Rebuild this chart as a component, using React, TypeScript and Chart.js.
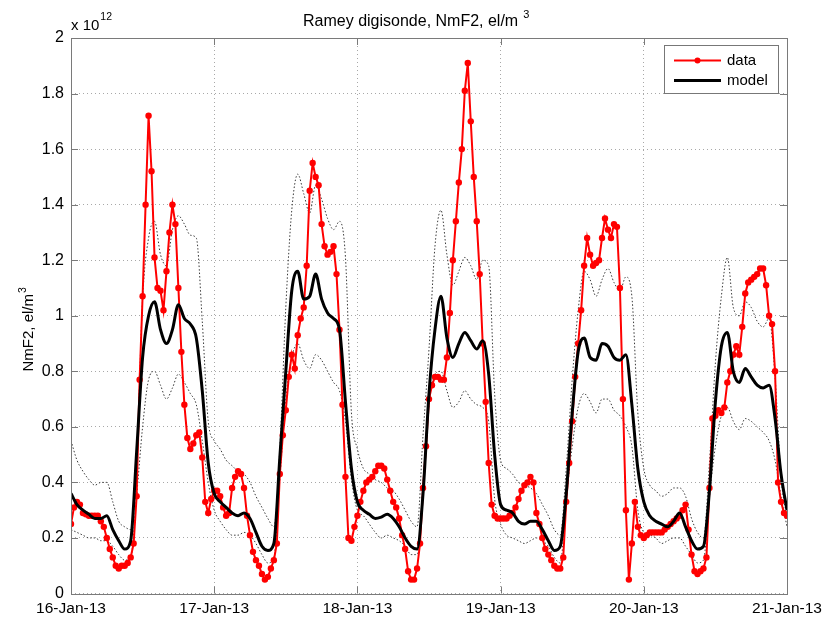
import React, { useEffect, useRef } from 'react';
import { Chart, registerables } from 'chart.js';

Chart.register(...registerables);

// X axis: days since 16-Jan-2013 00:00
const dateLabels = ['16-Jan-13', '17-Jan-13', '18-Jan-13', '19-Jan-13', '20-Jan-13', '21-Jan-13'];
const yTickLabels = ['0', '0.2', '0.4', '0.6', '0.8', '1', '1.2', '1.4', '1.6', '1.8', '2'];

// Digisonde NmF2 (x 1e12 el/m^3), one value every 30 minutes
const dataValues = [
  // 16-Jan
  0.25, 0.31, 0.33, 0.32, 0.29, 0.285, 0.28, 0.28, 0.28, 0.28,
  0.26, 0.24, 0.20, 0.16, 0.13, 0.10, 0.09, 0.10, 0.10, 0.11,
  0.13, 0.18, 0.35, 0.77, 1.07, 1.40, 1.72, 1.52, 1.21, 1.10,
  1.09, 1.02, 1.16, 1.30, 1.40, 1.33, 1.10, 0.87, 0.68, 0.56,
  0.52, 0.54, 0.57, 0.58, 0.49, 0.33, 0.29, 0.34,
  // 17-Jan
  0.37, 0.37, 0.35, 0.31, 0.28, 0.29, 0.38, 0.42, 0.44, 0.43,
  0.38, 0.28, 0.21, 0.15, 0.12, 0.10, 0.07, 0.05, 0.06, 0.09,
  0.12, 0.18, 0.43, 0.57, 0.66, 0.78, 0.86, 0.81, 0.93, 0.99,
  1.03, 1.18, 1.45, 1.55, 1.50, 1.47, 1.33, 1.25, 1.22, 1.23,
  1.25, 1.15, 0.95, 0.68, 0.42, 0.20, 0.19, 0.24,
  // 18-Jan
  0.28, 0.33, 0.37, 0.40, 0.41, 0.42, 0.44, 0.46, 0.46, 0.45,
  0.41, 0.37, 0.33, 0.31, 0.27, 0.21, 0.16, 0.08, 0.05, 0.05,
  0.09, 0.18, 0.38, 0.53, 0.70, 0.75, 0.78, 0.78, 0.77, 0.77,
  0.85, 1.01, 1.20, 1.34, 1.48, 1.60, 1.81, 1.91, 1.70, 1.50,
  1.34, 1.15, 0.90, 0.69, 0.47, 0.32, 0.28, 0.27,
  // 19-Jan
  0.27, 0.27, 0.27, 0.28, 0.29, 0.31, 0.34, 0.37, 0.39, 0.40,
  0.42, 0.40, 0.29, 0.25, 0.20, 0.16, 0.14, 0.12, 0.10, 0.09,
  0.09, 0.13, 0.33, 0.47, 0.62, 0.78, 0.90, 1.02, 1.18, 1.28,
  1.22, 1.18, 1.19, 1.20, 1.28, 1.35, 1.31, 1.28, 1.33, 1.32,
  1.10, 0.70, 0.30, 0.05, 0.18, 0.33, 0.24, 0.21,
  // 20-Jan
  0.20, 0.21, 0.22, 0.22, 0.22, 0.22, 0.22, 0.23, 0.24, 0.25,
  0.26, 0.27, 0.28, 0.30, 0.32, 0.23, 0.14, 0.08, 0.07, 0.08,
  0.09, 0.13, 0.38, 0.63, 0.64, 0.66, 0.65, 0.67, 0.76, 0.80,
  0.86, 0.89, 0.86, 0.96, 1.08, 1.12, 1.13, 1.14, 1.15, 1.17,
  1.17, 1.11, 1.00, 0.97, 0.80, 0.40, 0.33, 0.29,
  // 21-Jan 00:00
  0.28,
];

// Model NmF2, hourly
const modelValues = [
  0.36, 0.32, 0.30, 0.285, 0.27, 0.27, 0.28, 0.23, 0.19, 0.16, 0.19, 0.51,
  0.85, 1.00, 1.05, 0.95, 0.90, 0.95, 1.04, 0.99, 0.97, 0.92, 0.73, 0.47,
  0.36, 0.33, 0.31, 0.29, 0.28, 0.29, 0.27, 0.22, 0.17, 0.155, 0.18, 0.49,
  0.80, 1.09, 1.16, 1.06, 1.07, 1.15, 1.06, 1.01, 0.99, 0.95, 0.69, 0.45,
  0.33, 0.30, 0.285, 0.27, 0.275, 0.285, 0.27, 0.24, 0.20, 0.17, 0.16, 0.36,
  0.72, 0.95, 1.07, 0.92, 0.85, 0.90, 0.94, 0.91, 0.88, 0.91, 0.79, 0.50,
  0.32, 0.30, 0.29, 0.26, 0.25, 0.26, 0.26, 0.23, 0.19, 0.155, 0.17, 0.36,
  0.65, 0.87, 0.92, 0.85, 0.84, 0.90, 0.89, 0.85, 0.84, 0.86, 0.68, 0.45,
  0.33, 0.28, 0.26, 0.25, 0.24, 0.26, 0.29, 0.24, 0.19, 0.16, 0.17, 0.37,
  0.69, 0.89, 0.94, 0.80, 0.76, 0.81, 0.78, 0.75, 0.74, 0.75, 0.63, 0.43,
  0.30,
];

// Model upper bound, hourly
const modelUpper = [
  0.55, 0.48, 0.44, 0.41, 0.39, 0.40, 0.40, 0.33, 0.26, 0.24, 0.23, 0.47,
  1.06, 1.28, 1.34, 1.22, 1.18, 1.31, 1.36, 1.33, 1.29, 1.28, 0.98, 0.62,
  0.55, 0.52, 0.48, 0.46, 0.44, 0.43, 0.40, 0.35, 0.31, 0.27, 0.24, 0.52,
  1.03, 1.38, 1.51, 1.44, 1.37, 1.47, 1.42, 1.35, 1.31, 1.34, 1.21, 0.65,
  0.52, 0.45, 0.43, 0.41, 0.40, 0.38, 0.37, 0.34, 0.30, 0.26, 0.24, 0.57,
  0.88, 1.25, 1.38, 1.22, 1.11, 1.16, 1.21, 1.18, 1.13, 1.20, 1.18, 0.72,
  0.48, 0.45, 0.43, 0.40, 0.39, 0.38, 0.36, 0.32, 0.28, 0.23, 0.21, 0.45,
  0.77, 1.02, 1.16, 1.13, 1.07, 1.13, 1.17, 1.12, 1.09, 1.14, 1.07, 0.65,
  0.45, 0.39, 0.37, 0.35, 0.36, 0.38, 0.38, 0.35, 0.27, 0.22, 0.20, 0.47,
  0.83, 1.07, 1.21, 1.03, 1.00, 1.05, 1.03, 0.98, 0.96, 0.99, 0.78, 0.42,
  0.27,
];

// Model lower bound, hourly
const modelLower = [
  0.23, 0.22, 0.21, 0.20, 0.20, 0.19, 0.19, 0.17, 0.14, 0.12, 0.13, 0.35,
  0.60, 0.77, 0.80, 0.75, 0.70, 0.74, 0.79, 0.76, 0.72, 0.68, 0.55, 0.40,
  0.30, 0.26, 0.23, 0.21, 0.21, 0.22, 0.21, 0.18, 0.14, 0.11, 0.13, 0.41,
  0.70, 0.85, 0.90, 0.84, 0.81, 0.86, 0.84, 0.80, 0.76, 0.73, 0.62, 0.41,
  0.30, 0.28, 0.25, 0.22, 0.20, 0.21, 0.20, 0.19, 0.17, 0.14, 0.14, 0.39,
  0.68, 0.79, 0.80, 0.73, 0.67, 0.69, 0.73, 0.70, 0.68, 0.67, 0.62, 0.34,
  0.25, 0.21, 0.20, 0.19, 0.18, 0.19, 0.20, 0.19, 0.17, 0.13, 0.11, 0.34,
  0.53, 0.67, 0.72, 0.69, 0.65, 0.70, 0.70, 0.66, 0.64, 0.60, 0.53, 0.30,
  0.22, 0.21, 0.20, 0.18, 0.19, 0.20, 0.20, 0.17, 0.14, 0.11, 0.12, 0.35,
  0.53, 0.64, 0.67, 0.62, 0.59, 0.63, 0.62, 0.60, 0.58, 0.55, 0.48, 0.35,
  0.24,
];

const DATA_STEP = 0.5 / 24; // days
const MODEL_STEP = 1 / 24; // days

const FONT = '"Liberation Sans", Arial, Helvetica, sans-serif';

const toPoints = (vals: number[], step: number) => vals.map((v, i) => ({ x: i * step, y: v }));

const decorPlugin = {
  id: 'decor',
  afterDraw(chart: any) {
    const { ctx, chartArea: a } = chart;
    const xs = chart.scales.x;
    const ys = chart.scales.y;
    ctx.save();

    // axes box
    ctx.strokeStyle = '#7a7a7a';
    ctx.lineWidth = 1;
    ctx.setLineDash([]);
    ctx.strokeRect(Math.round(a.left) + 0.5, Math.round(a.top) + 0.5, Math.round(a.right - a.left), Math.round(a.bottom - a.top));

    // inward ticks
    const tl = 7;
    ctx.beginPath();
    ys.ticks.forEach((t: any) => {
      const y = Math.round(ys.getPixelForValue(t.value)) + 0.5;
      ctx.moveTo(a.left, y); ctx.lineTo(a.left + tl, y);
      ctx.moveTo(a.right, y); ctx.lineTo(a.right - tl, y);
    });
    xs.ticks.forEach((t: any) => {
      const x = Math.round(xs.getPixelForValue(t.value)) + 0.5;
      ctx.moveTo(x, a.top); ctx.lineTo(x, a.top + tl);
      ctx.moveTo(x, a.bottom); ctx.lineTo(x, a.bottom - tl);
    });
    ctx.stroke();

    ctx.fillStyle = '#000';
    // title with superscript
    ctx.textBaseline = 'alphabetic';
    ctx.textAlign = 'left';
    ctx.font = `16px ${FONT}`;
    const titleMain = 'Ramey digisonde, NmF2, el/m';
    const wMain = ctx.measureText(titleMain).width;
    const tx = 303;
    ctx.fillText(titleMain, tx, 26);
    ctx.font = `11px ${FONT}`;
    ctx.fillText('3', tx + wMain + 5, 18);

    // exponent label
    ctx.font = `15px ${FONT}`;
    ctx.fillText('x 10', a.left, 30);
    const w10 = ctx.measureText('x 10').width;
    ctx.font = `10.5px ${FONT}`;
    ctx.fillText('12', a.left + w10 + 1, 20);

    // y-axis label (rotated)
    ctx.save();
    ctx.font = `15px ${FONT}`;
    const yl = 'NmF2, el/m';
    const wyl = ctx.measureText(yl).width;
    ctx.translate(33, (a.top + a.bottom) / 2 + 17 + wyl / 2);
    ctx.rotate(-Math.PI / 2);
    ctx.fillText(yl, 0, 0);
    ctx.font = `10.5px ${FONT}`;
    ctx.fillText('3', wyl + 1, -7);
    ctx.restore();

    // legend
    const lx = 664.5, ly = 45.5, lw = 114, lh = 48;
    ctx.fillStyle = '#fff';
    ctx.fillRect(lx, ly, lw, lh);
    ctx.strokeStyle = '#777';
    ctx.lineWidth = 1;
    ctx.strokeRect(lx, ly, lw, lh);
    // data entry
    ctx.strokeStyle = '#ff0000';
    ctx.lineWidth = 2;
    ctx.beginPath(); ctx.moveTo(674, 60.5); ctx.lineTo(721, 60.5); ctx.stroke();
    ctx.fillStyle = '#ff0000';
    ctx.beginPath(); ctx.arc(697.5, 60.5, 3, 0, Math.PI * 2); ctx.fill();
    // model entry
    ctx.strokeStyle = '#000';
    ctx.lineWidth = 3;
    ctx.beginPath(); ctx.moveTo(674, 80.5); ctx.lineTo(721, 80.5); ctx.stroke();
    ctx.fillStyle = '#000';
    ctx.font = `15px ${FONT}`;
    ctx.textBaseline = 'middle';
    ctx.fillText('data', 727, 61);
    ctx.fillText('model', 727, 81);

    ctx.restore();
  },
};

export default function App() {
  const ref = useRef<HTMLCanvasElement>(null);
  useEffect(() => {
    document.body.style.margin = '0';
    const canvas = ref.current;
    if (!canvas) return;
    const chart = new Chart(canvas, {
      type: 'line',
      data: {
        datasets: [
          {
            label: 'data',
            data: toPoints(dataValues, DATA_STEP),
            borderColor: '#ff0000',
            backgroundColor: '#ff0000',
            borderWidth: 2,
            pointRadius: 3.2,
            pointBorderWidth: 0,
            pointBackgroundColor: '#ff0000',
            tension: 0,
            order: 2,
          },
          {
            label: 'model',
            data: toPoints(modelValues, MODEL_STEP),
            borderColor: '#000000',
            borderWidth: 3,
            pointRadius: 0,
            cubicInterpolationMode: 'monotone',
            order: 1,
          },
          {
            label: 'upper',
            data: toPoints(modelUpper, MODEL_STEP),
            borderColor: '#3a3a3a',
            borderWidth: 1,
            borderDash: [1.5, 2],
            pointRadius: 0,
            cubicInterpolationMode: 'monotone',
            order: 3,
          },
          {
            label: 'lower',
            data: toPoints(modelLower, MODEL_STEP),
            borderColor: '#3a3a3a',
            borderWidth: 1,
            borderDash: [1.5, 2],
            pointRadius: 0,
            cubicInterpolationMode: 'monotone',
            order: 4,
          },
        ],
      },
      options: {
        responsive: false,
        animation: false,
        events: [],
        layout: { padding: { left: 0, right: 37, top: 38, bottom: 0 } },
        plugins: {
          legend: { display: false },
          title: { display: false },
          tooltip: { enabled: false },
        },
        scales: {
          x: {
            type: 'linear',
            min: 0,
            max: 5,
            afterFit: (scale: any) => {
              scale.height = 30.5;
              scale.paddingLeft = 0;
              scale.paddingRight = 0;
            },
            ticks: {
              stepSize: 1,
              autoSkip: false,
              maxRotation: 0,
              padding: 6,
              color: '#000',
              font: { family: FONT, size: 15.5 },
              callback: (v: any) => dateLabels[Math.round(Number(v))] ?? '',
            },
            grid: { color: '#a8a8a8', lineWidth: 1, drawTicks: false },
            border: { display: false, dash: [1, 3] },
          },
          y: {
            min: 0,
            max: 2,
            afterFit: (scale: any) => {
              scale.width = 71;
              scale.paddingTop = 0;
              scale.paddingBottom = 0;
            },
            ticks: {
              stepSize: 0.2,
              padding: 7,
              color: '#000',
              font: { family: FONT, size: 16 },
              callback: (v: any) => yTickLabels[Math.round(Number(v) / 0.2)] ?? '',
            },
            grid: { color: '#a8a8a8', lineWidth: 1, drawTicks: false },
            border: { display: false, dash: [1, 3] },
          },
        },
      },
      plugins: [decorPlugin],
    });
    return () => chart.destroy();
  }, []);
  return (
    <div style={{ width: 824, height: 624, position: 'relative' }}>
      <canvas ref={ref} width={824} height={624} style={{ display: 'block', width: 824, height: 624 }} />
    </div>
  );
}
